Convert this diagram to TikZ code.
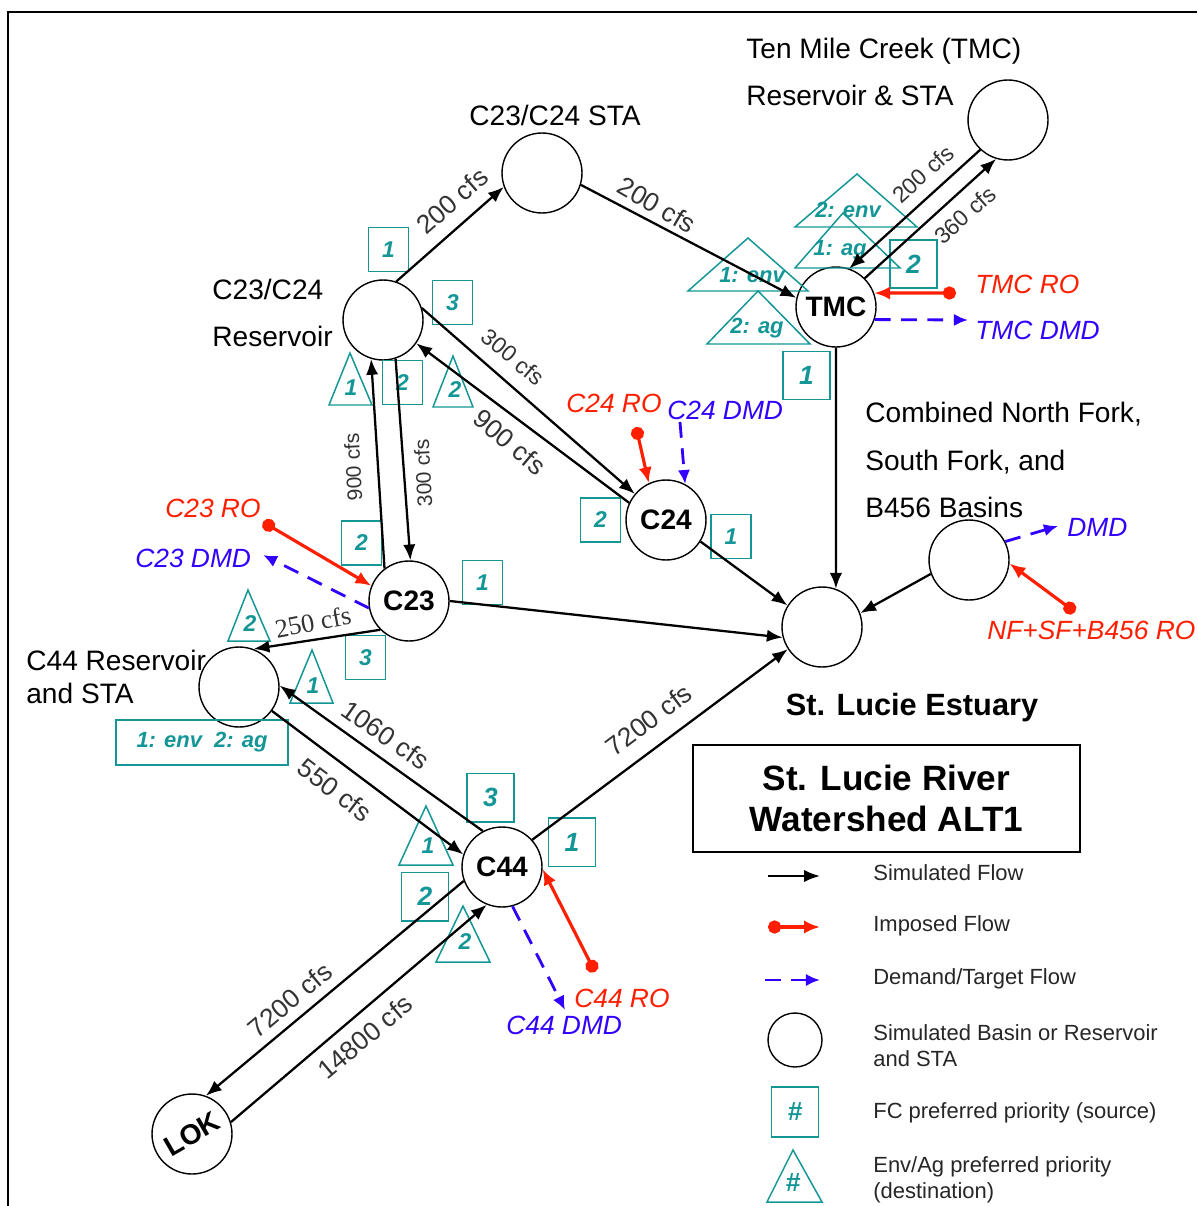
\documentclass[tikz,border=0pt]{standalone}
\usepackage{fontspec}
\setmainfont{Liberation Sans}
\newfontfamily\serifcaudal{Liberation Serif}
\usepackage{tikz}
\usetikzlibrary{positioning,arrows.meta}

\definecolor{prioteal}{RGB}{20,150,150}
\definecolor{rojoro}{RGB}{255,30,0}
\definecolor{azuldmd}{RGB}{50,0,255}

\begin{document}
\begin{tikzpicture}[
    x=0.02cm, y=-0.02cm,
    cuenca/.style={
        draw,
        circle,
        minimum size=1.6cm,
        inner sep=0pt,
        line width=0.8pt,
        font=\bfseries\fontsize{16}{18}\selectfont
    },
    etiqueta/.style={font=\fontsize{16}{27}\selectfont},
    lugar/.style={etiqueta, align=left, anchor=west, inner sep=0pt},
    caudal/.style={text=black!80, inner sep=1pt, font=\fontsize{15}{17}\selectfont},
    caudalchico/.style={caudal, font=\fontsize{13}{15}\selectfont},
    rotro/.style={text=rojoro, anchor=west, inner sep=0pt, font=\itshape\fontsize{15}{18}\selectfont},
    rotdmd/.style={rotro, text=azuldmd},
    prio/.style={
        draw=prioteal,
        line width=0.85pt,
        text=prioteal,
        minimum width=0.8cm,
        minimum height=0.88cm,
        inner sep=0pt,
        font=\bfseries\itshape\fontsize{13}{15}\selectfont
    },
    priogrande/.style={prio, minimum width=0.94cm, minimum height=0.97cm,
        font=\bfseries\itshape\fontsize{15}{17}\selectfont},
    tri/.style={draw=prioteal, line width=0.85pt},
    trinum/.style={text=prioteal, inner sep=0pt, font=\bfseries\itshape\fontsize{13}{15}\selectfont},
    trienv/.style={trinum, font=\bfseries\itshape\fontsize{12.5}{15}\selectfont},
    leyenda/.style={anchor=west, align=left, inner sep=0pt, text=black!85, font=\fontsize{12.5}{14.7}\selectfont},
    flujo/.style={-{Latex[length=9pt,width=7pt]}, line width=1.3pt},
    impuesto/.style={{Circle[length=7.5pt]}-{Latex[length=9pt,width=7.5pt]}, rojoro, line width=1.8pt},
    demanda/.style={-{Latex[length=8pt,width=7pt]}, azuldmd, line width=1.6pt, dash pattern=on 9pt off 6pt}
]

\useasboundingbox (0,0) rectangle (1197,1206);
\draw[line width=1.1pt] (8,1206) -- (8,12) -- (1197,12);

\node[cuenca] (sta) at (542,173) {};
\node[cuenca] (res) at (383,320) {};
\node[cuenca] (tmcres) at (1008,120) {};
\node[cuenca] (tmc) at (836,307) {TMC};
\node[cuenca] (c24) at (666,520) {C24};
\node[cuenca] (c23) at (409,601) {C23};
\node[cuenca] (c44res) at (239,687) {};
\node[cuenca] (estuario) at (822,627) {};
\node[cuenca] (nfsf) at (969,560) {};
\node[cuenca] (c44) at (502,867) {C44};
\node[cuenca] (lok) at (192,1134) {};
\node[rotate=30, font=\bfseries\fontsize{16}{18}\selectfont] (loktexto) at (lok) {LOK};

\node[lugar] (tmcnombre) at (746,72) {Ten Mile Creek (TMC)\\Reservoir \& STA};
\node[etiqueta] (stanombre) at (555,115) {C23/C24 STA};
\node[lugar] (resnombre) at (212,313) {C23/C24\\Reservoir};
\node[lugar, font=\fontsize{16}{18.7}\selectfont] (c44resnombre) at (26,677) {C44 Reservoir\\and STA};
\node[lugar] (nfsfnombre) at (865,460) {Combined North Fork,\\South Fork, and\\B456 Basins};
\node[font=\bfseries\fontsize{17.5}{20}\selectfont] (estnombre) at (912,708) {St. Lucie Estuary};

\node[draw, line width=1pt, minimum width=7.74cm, minimum height=2.14cm, align=center,
    font=\bfseries\fontsize{20}{23.8}\selectfont] (titulo) at (886.5,798.5)
{St. Lucie River\\Watershed ALT1};

\draw[tri] (329,405) -- (350,353) -- (372,405) -- cycle;
\draw[tri] (433,407) -- (453,356) -- (473,407) -- cycle;
\draw[tri] (228,641) -- (248,590) -- (270,641) -- cycle;
\draw[tri] (290,703) -- (312,650) -- (333,703) -- cycle;
\draw[tri] (399,865) -- (426,806) -- (453,865) -- cycle;
\draw[tri] (436,962) -- (463,906) -- (490,962) -- cycle;
\draw[tri] (795,227) -- (857,174) -- (917,227) -- cycle;
\draw[tri] (795,268) -- (843,213) -- (900,268) -- cycle;
\draw[tri] (688,291) -- (748,238) -- (808,291) -- cycle;
\draw[tri] (707,344) -- (758,291) -- (810,344) -- cycle;

\node[trinum] (tresuno) at (351,388) {1};
\node[trinum] (tresdos) at (455,390) {2};
\node[trinum] (tc23dos) at (250,624) {2};
\node[trinum] (tc44resuno) at (313,686) {1};
\node[trinum] (tc44uno) at (428,846) {1};
\node[trinum] (tc44dos) at (465,942) {2};
\node[trienv] (ttmcdosenv) at (848,210) {2: env};
\node[trienv] (ttmcunoag) at (840,250) {1: ag};
\node[trienv] (ttmcunoenv) at (752,275) {1: env};
\node[trienv] (ttmcdosag) at (757,328) {2: ag};

\node[prio] (bresuno) at (388.5,249.5) {1};
\node[prio] (brestres) at (452.5,302.5) {3};
\node[prio] (bresdos) at (402.5,382.5) {2};
\node[priogrande] (btmcdos) at (913.5,264) {2};
\node[priogrande] (btmcuno) at (806.5,375.5) {1};
\node[prio] (bc23dos) at (361.5,543) {2};
\node[prio] (bc23uno) at (482.5,582.5) {1};
\node[prio] (bc23tres) at (365.5,657.5) {3};
\node[prio] (bc24dos) at (600.5,520) {2};
\node[prio] (bc24uno) at (731,536.5) {1};
\node[priogrande] (bc44tres) at (490.5,797.5) {3};
\node[priogrande] (bc44uno) at (572,842) {1};
\node[priogrande] (bc44dos) at (425,896.5) {2};
\node[prio, minimum width=3.44cm, minimum height=0.9cm,
    font=\bfseries\itshape\fontsize{12.5}{15}\selectfont] (bc44res) at (202,742.5) {1: env~~2: ag};

\draw[flujo] (res.71) -- (sta.200);
\draw[flujo] (sta.-17) -- (tmc.167);
\draw[flujo] (tmcres.227) -- (tmc.71);
\draw[flujo] (tmc.45) -- (tmcres.253);
\draw[flujo] (res.17) -- (c24.140);
\draw[flujo] (c24.155) -- (res.-35);
\draw[flujo] (c23.127) -- (res.-107);
\draw[flujo] (res.-72) -- (c23.88);
\draw[flujo] (c23.-135) -- (c44res.69);
\draw[flujo] (c23.0) -- (estuario.195);
\draw[flujo] (c24.-32) -- (estuario.148);
\draw[flujo] (tmc.-90) -- (estuario.70);
\draw[flujo] (nfsf.200) -- (estuario.20);
\draw[flujo] (c44.42) -- (estuario.213);
\draw[flujo] (c44res.-36) -- (c44.162);
\draw[flujo] (c44.118) -- (c44res.2);
\draw[flujo] (c44.200) -- (lok.70);
\draw[flujo] (lok.17) -- (c44.-112);

\node[caudal, rotate=41] (q1) at (452,201) {200 cfs};
\node[caudal, rotate=-30] (q2) at (657,205) {200 cfs};
\node[caudalchico, rotate=42] (q3) at (923,174) {200 cfs};
\node[caudalchico, rotate=42] (q4) at (965,215) {360 cfs};
\node[caudalchico, rotate=-40] (q5) at (513,357) {300 cfs};
\node[caudal, rotate=-40] (q6) at (510,442) {900 cfs};
\node[caudal, rotate=93, font=\fontsize{12}{14}\selectfont] (q7) at (353,467) {900 cfs};
\node[caudal, rotate=93, font=\fontsize{12}{14}\selectfont] (q8) at (423,473) {300 cfs};
\node[caudal, rotate=11, font=\serifcaudal\fontsize{15}{17}\selectfont] (q9) at (313,622) {250 cfs};
\node[caudal, rotate=-35] (q10) at (386,735) {1060 cfs};
\node[caudal, rotate=-37] (q11) at (335,790) {550 cfs};
\node[caudal, rotate=37] (q12) at (649,720) {7200 cfs};
\node[caudal, rotate=40] (q13) at (290,1000) {7200 cfs};
\node[caudal, rotate=40] (q14) at (365,1037) {14800 cfs};

\coordinate (tmcro) at (956,293);
\coordinate (tmcdmd) at (968,320);
\coordinate (c24ro) at (636,427);
\coordinate (c24dmd) at (680,422);
\coordinate (c23ro) at (263,522);
\coordinate (c23dmd) at (263,555);
\coordinate (nfsfro) at (1075,612);
\coordinate (nfsfdmd) at (1058,526);
\coordinate (c44ro) at (595,972);
\coordinate (c44dmd) at (565,1010);

\draw[impuesto] (tmcro) -- (tmc.20);
\draw[impuesto] (c24ro) -- (c24.115);
\draw[impuesto] (c23ro) -- (c23.158);
\draw[impuesto] (nfsfro) -- (nfsf.-5);
\draw[impuesto] (c44ro) -- (c44.-3);

\draw[demanda] (tmc.-18) -- (tmcdmd);
\draw[demanda] (c24dmd) -- (c24.62);
\draw[demanda] (c23.190) -- (c23dmd);
\draw[demanda] (nfsf.27) -- (nfsfdmd);
\draw[demanda] (c44.-75) -- (c44dmd);

\node[rotro] (tmcrotexto) at (975,284) {TMC RO};
\node[rotdmd] (tmcdmdtexto) at (975,330) {TMC DMD};
\node[rotro] (c24rotexto) at (566,403) {C24 RO};
\node[rotdmd] (c24dmdtexto) at (667,410) {C24 DMD};
\node[rotro] (c23rotexto) at (165,508) {C23 RO};
\node[rotdmd] (c23dmdtexto) at (135,558) {C23 DMD};
\node[rotdmd] (nfsfdmdtexto) at (1067,527) {DMD};
\node[rotro] (nfsfrotexto) at (987,630) {NF+SF+B456 RO};
\node[rotro] (c44rotexto) at (574,998) {C44 RO};
\node[rotdmd] (c44dmdtexto) at (506,1025) {C44 DMD};

\coordinate (leysim1) at (768,876);
\coordinate (leysim2) at (820,876);
\coordinate (leyimp1) at (768,927);
\coordinate (leyimp2) at (820,927);
\coordinate (leydmd1) at (765,980);
\coordinate (leydmd2) at (820,980);
\draw[flujo] (leysim1) -- (leysim2);
\draw[impuesto] (leyimp1) -- (leyimp2);
\draw[demanda] (leydmd1) -- (leydmd2);
\node[cuenca, minimum size=1.08cm] (leycuenca) at (795,1040) {};
\node[priogrande, minimum height=1cm] (leycaja) at (795,1112) {\#};
\draw[tri] (767,1202) -- (793,1150) -- (822,1202) -- cycle;
\node[trinum, font=\bfseries\itshape\fontsize{15}{17}\selectfont] (leytri) at (793,1183) {\#};

\node[leyenda] (leytexto1) at (873,873) {Simulated Flow};
\node[leyenda] (leytexto2) at (873,926) {Imposed Flow};
\node[leyenda] (leytexto3) at (873,979) {Demand/Target Flow};
\node[leyenda] (leytexto4) at (873,1046) {Simulated Basin or Reservoir\\and STA};
\node[leyenda] (leytexto5) at (873,1113) {FC preferred priority (source)};
\node[leyenda] (leytexto6) at (873,1180) {Env/Ag preferred priority\\(destination)};

\end{tikzpicture}
\end{document}
